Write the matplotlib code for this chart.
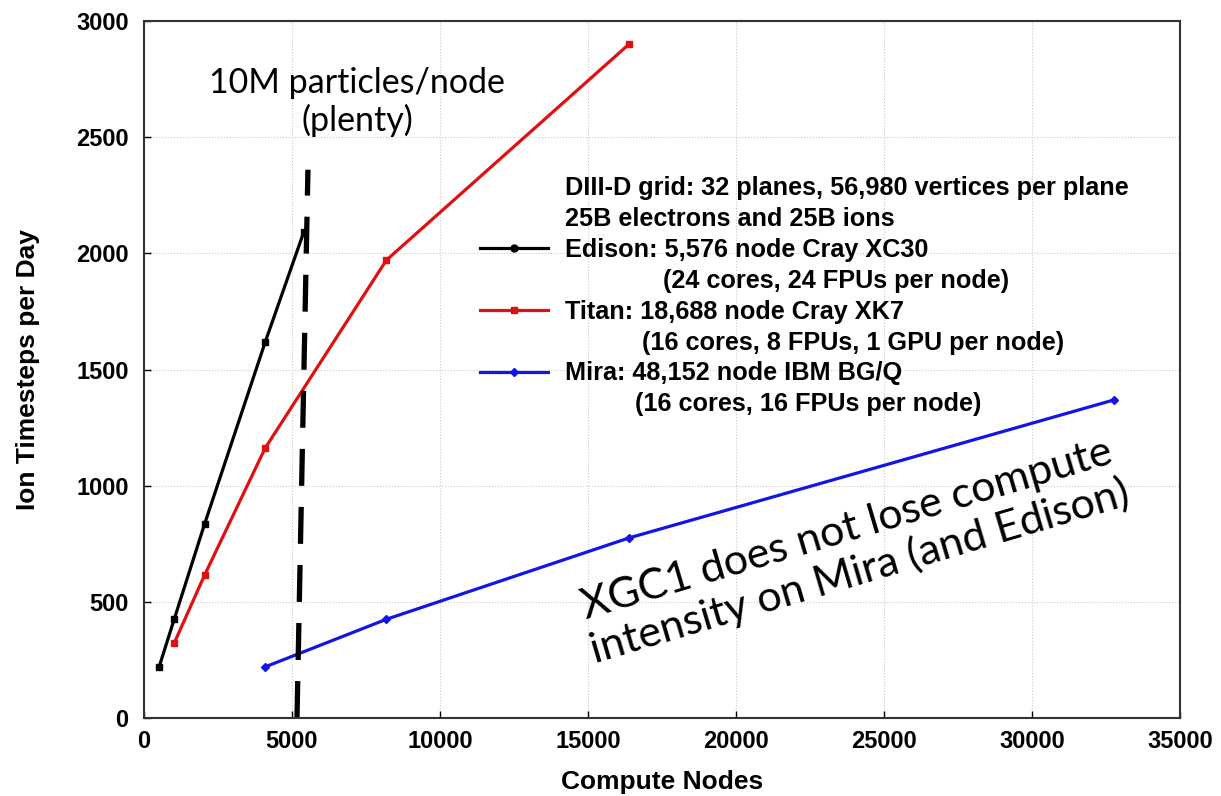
import matplotlib
matplotlib.use("Agg")
import matplotlib.pyplot as plt
from matplotlib.lines import Line2D

# ---- data ----
edison_nodes = [512, 1024, 2048, 4096, 5400]
edison_steps = [220, 426, 835, 1618, 2092]
titan_nodes = [1024, 2048, 4096, 8192, 16384]
titan_steps = [323, 615, 1162, 1971, 2900]
mira_nodes = [4096, 8192, 16384, 32768]
mira_steps = [220, 425, 775, 1369]
xticks = [0, 5000, 10000, 15000, 20000, 25000, 30000, 35000]
yticks = [0, 500, 1000, 1500, 2000, 2500, 3000]
limit_x = [5170, 5540]
limit_y = [0, 2360]

legend_header = ["DIII-D grid: 32 planes, 56,980 vertices per plane",
                 "25B electrons and 25B ions"]
labels = ["Edison: 5,576 node Cray XC30", "Titan: 18,688 node Cray XK7",
          "Mira: 48,152 node IBM BG/Q"]
sublabels = ["(24 cores, 24 FPUs per node)",
             "(16 cores, 8 FPUs, 1 GPU per node)",
             "(16 cores, 16 FPUs per node)"]

fig = plt.figure(figsize=(12.21, 7.96), dpi=100)
ax = fig.add_axes([0.1179, 0.098, 0.8485, 0.8756])

bold = dict(family="Liberation Sans", weight="bold")
BLACK, RED, BLUE = "black", "#e01010", "#1414e6"

ax.plot(edison_nodes, edison_steps, color=BLACK, lw=2.3, marker="s", ms=5)
ax.plot(titan_nodes, titan_steps, color=RED, lw=2.3, marker="s", ms=5)
ax.plot(mira_nodes, mira_steps, color=BLUE, lw=2.3, marker="D", ms=4)

ax.plot(limit_x, limit_y, color="black", lw=3.8, dashes=(7, 4))

ax.set_xlim(0, 35000)
ax.set_ylim(0, 3000)
ax.set_xticks(xticks)
ax.set_yticks(yticks)
ax.set_xticklabels([str(v) for v in xticks], fontsize=17, **bold)
ax.set_yticklabels([str(v) for v in yticks], fontsize=17, **bold)
ax.tick_params(axis="y", direction="in", length=5, width=1, pad=11)
ax.tick_params(axis="x", direction="in", length=5, width=1, pad=9)
ax.grid(True, color="#c8c8c8", lw=0.8, ls=":")
for s in ax.spines.values():
    s.set_linewidth(1.5)
    s.set_color("#333333")

ax.set_xlabel("Compute Nodes", fontsize=19, **bold)
ax.set_ylabel("Ion Timesteps per Day", fontsize=19, **bold)
ax.xaxis.set_label_coords(0.5, -0.075)
ax.yaxis.set_label_coords(-0.100, 0.5)

# legend
none = Line2D([], [], color="none")
handles = [none, none,
           Line2D([], [], color=BLACK, lw=2.3, marker="o", ms=5), none,
           Line2D([], [], color=RED, lw=2.3, marker="s", ms=5), none,
           Line2D([], [], color=BLUE, lw=2.3, marker="D", ms=4), none]
labs = [legend_header[0], legend_header[1],
        labels[0], " " * 14 + sublabels[0],
        labels[1], " " * 11 + sublabels[1],
        labels[2], " " * 10 + sublabels[2]]
ax.legend(handles, labs, loc="upper left", bbox_to_anchor=(0.3243, 0.777),
          frameon=False, prop=dict(family="Liberation Sans", weight="bold", size=18.2),
          handlelength=2.7, handletextpad=0.68, labelspacing=0.27,
          borderpad=0, borderaxespad=0)

ax.text(0.2056, 0.884, "10M particles/node\n(plenty)",
        transform=ax.transAxes, ha="center", va="center", fontsize=24.5,
        family="Lato", linespacing=1.2)

ax.text(0.685, 0.2396, "XGC1 does not lose compute\nintensity on Mira (and Edison)",
        transform=ax.transAxes, ha="center", va="center", fontsize=31,
        family="Lato", rotation=16.5, rotation_mode="anchor", linespacing=1.15)

fig.savefig("out.png", dpi=100)
